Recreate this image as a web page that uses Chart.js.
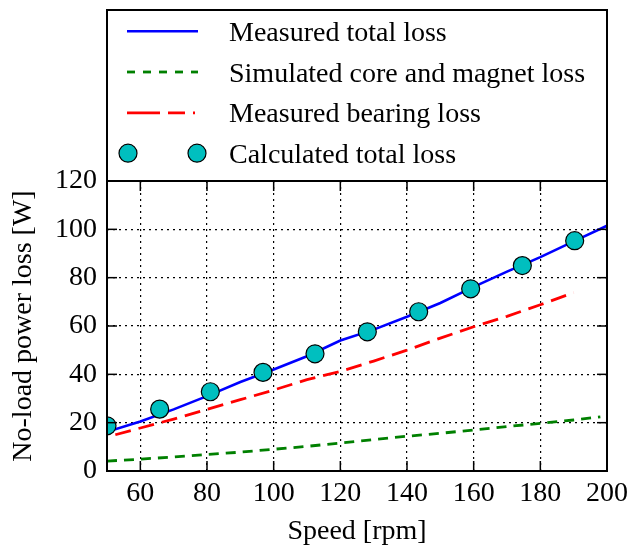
<!DOCTYPE html>
<html><head><meta charset="utf-8">
<script src="https://cdn.jsdelivr.net/npm/chart.js@4"></script>
<style>html,body{margin:0;padding:0;background:#fff}canvas{display:block}</style>
</head><body>
<canvas id="c" width="639" height="548"></canvas>
<script>
// ---- data ----
const xTicks = [60, 80, 100, 120, 140, 160, 180, 200];
const yTicks = [0, 20, 40, 60, 80, 100, 120];

const seriesNames = ['Measured total loss', 'Simulated core and magnet loss', 'Measured bearing loss', 'Calculated total loss'];

const totalSpeed = [50, 60, 70, 80, 90, 100, 110, 120, 130, 140, 150, 160, 170, 180, 190, 200];
const totalLoss  = [16.2, 20.5, 25.5, 31.0, 36.8, 42.0, 47.5, 54.0, 58.5, 63.8, 69.5, 76.2, 82.5, 88.5, 95.0, 101.5];

const coreSpeed = [50, 60, 70, 80, 90, 100, 110, 120, 130, 140, 150, 160, 170, 180, 190, 198];
const coreLoss  = [4.1, 4.9, 5.8, 6.8, 7.8, 9.0, 10.2, 11.6, 13.0, 14.4, 15.6, 17.0, 18.4, 19.7, 21.1, 22.4];

const bearingSpeed = [52.5, 60, 70, 80, 90, 100, 110, 120, 130, 140, 150, 160, 170, 180, 190];
const bearingLoss  = [15.0, 17.8, 21.5, 25.5, 29.5, 33.5, 37.8, 41.2, 45.5, 50.0, 55.0, 59.7, 64.0, 68.8, 73.8];

const calcSpeed = [50, 65.8, 81.0, 96.8, 112.4, 128.1, 143.5, 159.1, 174.6, 190.3];
const calcLoss  = [18.7, 25.6, 32.8, 40.8, 48.5, 57.6, 65.9, 75.4, 85.0, 95.3];

const toPts = (xs, ys) => xs.map((v, i) => ({x: v, y: ys[i]}));

const FONT = "'Liberation Serif', 'DejaVu Serif', serif";

const frame = {
  id: 'frame',
  afterDraw(chart) {
    const {ctx, chartArea: a, scales: {x, y}} = chart;
    ctx.save();
    ctx.strokeStyle = '#000';
    ctx.setLineDash([]);
    const T = 10;
    ctx.lineWidth = 1.5;
    const ln = (x1, y1, x2, y2) => { ctx.beginPath(); ctx.moveTo(x1, y1); ctx.lineTo(x2, y2); ctx.stroke(); };
    xTicks.forEach(v => { const p = x.getPixelForValue(v); ln(p, a.bottom, p, a.bottom - T); ln(p, a.top, p, a.top + T); });
    yTicks.forEach(v => { const p = y.getPixelForValue(v); ln(a.left, p, a.left + T, p); ln(a.right, p, a.right - T, p); });
    ctx.lineWidth = 2;
    ctx.strokeRect(a.left, a.top, a.right - a.left, a.bottom - a.top);
    // legend box
    const top = 10;
    ctx.strokeRect(a.left, top, a.right - a.left, a.top - top);
    const h1 = a.left + 20, h2 = a.left + 91, tx = a.left + 122;
    const baselines = [40.7, 81.5, 122.3, 162.7];
    ctx.font = '28px ' + FONT;
    ctx.textBaseline = 'alphabetic';
    ctx.textAlign = 'left';
    chart.data.datasets.forEach((ds, i) => {
      const b = baselines[i], cy = b - 9.5;
      if (ds.showLine) {
        ctx.strokeStyle = ds.borderColor;
        ctx.lineWidth = ds.borderWidth;
        ctx.setLineDash(ds.legendDash || ds.borderDash || []);
        ln(h1, cy, h2, cy);
        ctx.setLineDash([]);
      } else {
        [h1 + 1, h2 - 1].forEach(px => {
          ctx.beginPath();
          ctx.arc(px, cy, ds.pointRadius, 0, Math.PI * 2);
          ctx.fillStyle = ds.backgroundColor;
          ctx.fill();
          ctx.lineWidth = ds.borderWidth;
          ctx.strokeStyle = ds.borderColor;
          ctx.stroke();
        });
      }
      ctx.fillStyle = '#000';
      ctx.fillText(ds.label, tx, b);
    });
    ctx.restore();
  }
};

new Chart(document.getElementById('c'), {
  type: 'scatter',
  data: {
    datasets: [
      { label: seriesNames[0], data: toPts(totalSpeed, totalLoss), showLine: true, borderColor: '#0000ff', borderWidth: 2.6, pointRadius: 0, tension: 0, order: 1 },
      { label: seriesNames[1], data: toPts(coreSpeed, coreLoss), showLine: true, borderColor: '#008000', borderWidth: 2.8, borderDash: [10, 7], legendDash: [8, 8], pointRadius: 0, tension: 0, order: 1 },
      { label: seriesNames[2], data: toPts(bearingSpeed, bearingLoss), showLine: true, borderColor: '#ff0000', borderWidth: 2.8, borderDash: [16, 8], legendDash: [33, 8, 17, 8, 2, 50], pointRadius: 0, tension: 0, order: 1 },
      { label: seriesNames[3], data: toPts(calcSpeed, calcLoss), showLine: false, backgroundColor: '#00bfbf', borderColor: '#000', borderWidth: 1.2, pointRadius: 9, order: -1 }
    ]
  },
  options: {
    responsive: false,
    animation: false,
    devicePixelRatio: 1,
    layout: { padding: { top: 181, right: 32, left: 0, bottom: 0 } },
    plugins: { legend: { display: false }, tooltip: { enabled: false } },
    scales: {
      x: {
        type: 'linear', min: 50, max: 200,
        afterBuildTicks: s => { s.ticks = xTicks.map(v => ({value: v})); },
        afterFit: s => { s.height = 77; },
        grid: { color: '#000', lineWidth: 1.2, drawTicks: false, tickLength: 0 },
        border: { display: false, dash: [2, 4] },
        ticks: { color: '#000', font: { family: FONT, size: 28 }, padding: 6, maxRotation: 0, callback: v => String(v) },
        title: { display: true, text: 'Speed [rpm]', color: '#000', font: { family: FONT, size: 28 }, padding: { top: 0, bottom: 0 } }
      },
      y: {
        type: 'linear', min: 0, max: 120,
        afterBuildTicks: s => { s.ticks = yTicks.map(v => ({value: v})); },
        afterFit: s => { s.width = 107; },
        grid: { color: '#000', lineWidth: 1.2, drawTicks: false, tickLength: 0 },
        border: { display: false, dash: [2, 4] },
        ticks: { color: '#000', font: { family: FONT, size: 28 }, padding: 10, callback: v => String(v) },
        title: { display: true, text: 'No-load power loss [W]', color: '#000', font: { family: FONT, size: 28 }, padding: { top: 7, bottom: 0 } }
      }
    }
  },
  plugins: [frame]
});
</script>
</body></html>
